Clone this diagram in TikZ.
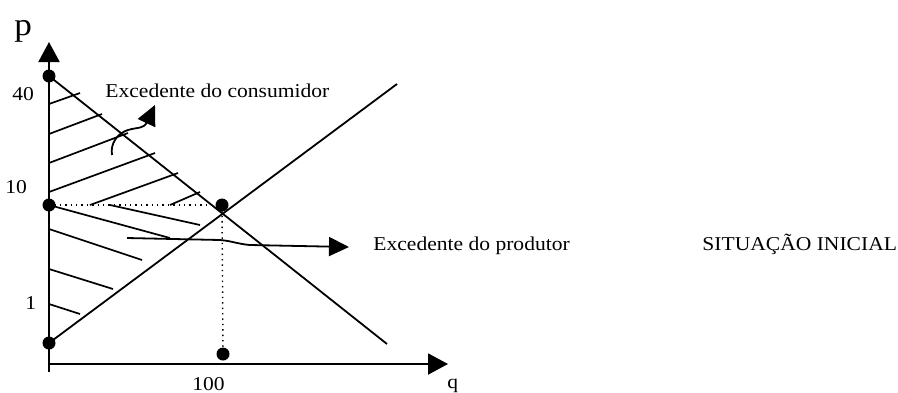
\documentclass[tikz,border=0pt]{standalone}
\usepackage{fontspec}
\setmainfont[FakeStretch=1.1]{Liberation Serif}
\usetikzlibrary{arrows.meta}
\begin{document}
\begin{tikzpicture}[x=0.5pt,y=-0.5pt,
  ln/.style={line width=0.9pt},
  axis/.style={line width=1pt,-{Triangle[length=10pt,width=10.5pt]}},
  ptr/.style={line width=0.9pt,-{Triangle[length=10pt,width=9.5pt]}},
  dots/.style={line width=0.7pt,dotted},
  pt/.style={circle,fill=black,inner sep=0pt,minimum size=6.5pt},
  lbl/.style={inner sep=0pt,anchor=base west,font=\fontsize{9.8pt}{11pt}\selectfont},
  hatch/.style={line width=0.85pt}]
\useasboundingbox (0,0) rectangle (898,392);
% axes
\coordinate (o) at (49,364);
\coordinate (ybot) at (49,372);
\coordinate (ytop) at (49,42);
\coordinate (xend) at (448,364);
\draw[axis] (ybot) -- (ytop);
\draw[axis] (o) -- (xend);
% dots
\node[pt] (d40) at (49,76) {};
\node[pt] (d10) at (49,205) {};
\node[pt] (eq) at (222,205) {};
\node[pt] (d0) at (49,343) {};
\node[pt] (q100) at (223,354) {};
% demand and supply
\coordinate (dend) at (387,344);
\coordinate (send) at (397,84);
\draw[ln] (d40.center) -- (dend);
\draw[ln] (d0.center) -- (send);
% dotted guides
\draw[dots] (d10.center) -- (eq.center);
\draw[dots] (eq.center) -- (q100.center);
% consumer surplus hatch
\draw[hatch] (49,104) -- (80,93);
\draw[hatch] (49,134) -- (102,114);
\draw[hatch] (49,163) -- (128,133);
\draw[hatch] (49,192) -- (155,153);
\draw[hatch] (90,205) -- (178,173);
\draw[hatch] (170,205) -- (200,192);
% producer surplus hatch
\draw[hatch] (49,205) -- (170,238);
\draw[hatch] (110,205) -- (200,225);
\draw[hatch] (49,229) -- (142,260);
\draw[hatch] (49,269) -- (113,289);
\draw[hatch] (49,304) -- (80,314);
% labels
\node[inner sep=0pt,anchor=base west,font=\fontsize{16pt}{18pt}\selectfont] (p) at (14,35) {p};
\node[lbl] (l40) at (12,100) {40};
\node[lbl] (l10) at (5,193) {10};
\node[lbl] (l1) at (25,309) {1};
\node[lbl] (l100) at (192,390) {100};
\node[lbl] (q) at (447,388) {q};
\node[lbl] (cons) at (105,97) {Excedente do consumidor};
\node[lbl] (prod) at (373,250) {Excedente do produtor};
\node[lbl] (sit) at (702,250) {SITUAÇÃO INICIAL};
% pointer arrows
\coordinate (cs) at (112,155);
\coordinate (ct) at (155,105);
\draw[ptr] (cs) .. controls (110,143) and (118,133) .. (128,130) .. controls (138,127) and (144,129) .. (147,122) -- (ct);
\coordinate (ps) at (127,238);
\coordinate (pe) at (349,247);
\draw[ptr] (ps) -- (220,240) .. controls (232,241) and (238,244) .. (250,245) -- (pe);
\end{tikzpicture}
\end{document}
